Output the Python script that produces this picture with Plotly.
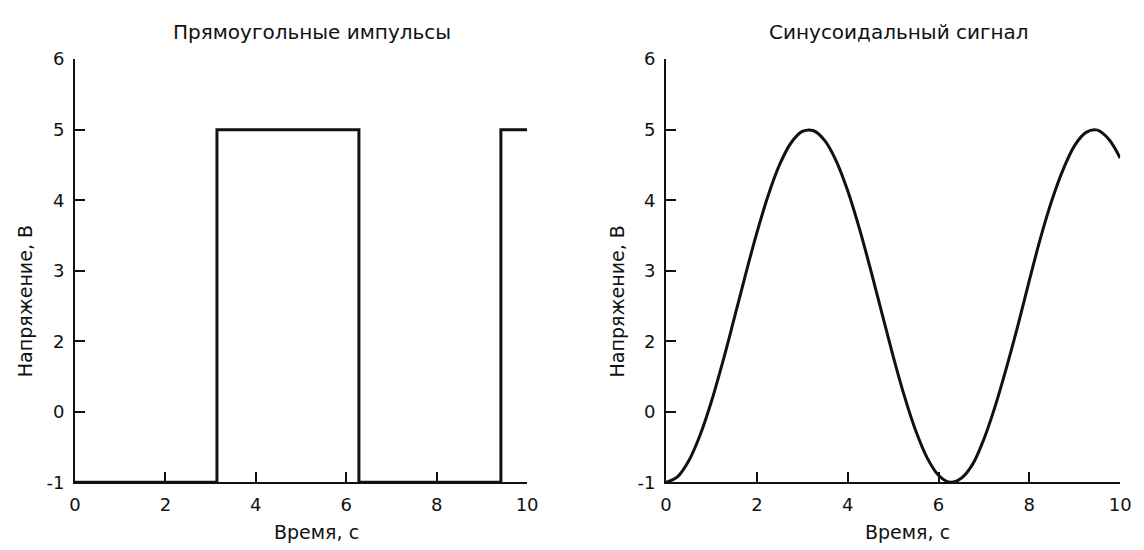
import plotly.graph_objects as go

# Square pulses (y in axis-position units; tick labels as printed on the chart)
sq_x = [0, 3.14, 3.14, 6.28, 6.28, 9.42, 9.42, 10]
sq_y = [0, 0, 5, 5, 0, 0, 5, 5]

# Sinusoid samples
sin_x = [0, 0.25, 0.5, 0.75, 1.0, 1.25, 1.5, 1.75, 2.0, 2.25, 2.5, 2.75, 3.0, 3.25,
         3.5, 3.75, 4.0, 4.25, 4.5, 4.75, 5.0, 5.25, 5.5, 5.75, 6.0, 6.25, 6.5, 6.75,
         7.0, 7.25, 7.5, 7.75, 8.0, 8.25, 8.5, 8.75, 9.0, 9.25, 9.5, 9.75, 10.0]
sin_y = [0.0, 0.078, 0.306, 0.671, 1.149, 1.712, 2.323, 2.946, 3.540, 4.071, 4.503,
         4.811, 4.975, 4.985, 4.841, 4.552, 4.134, 3.615, 3.027, 2.406, 1.791, 1.218,
         0.728, 0.347, 0.100, 0.001, 0.059, 0.255, 0.615, 1.084, 1.634, 2.228, 2.864,
         3.472, 4.005, 4.444, 4.778, 4.962, 4.993, 4.863, 4.598]

x_ticks = [0, 2, 4, 6, 8, 10]
y_tickpos = [0, 1, 2, 3, 4, 5, 6]
y_ticktext = ["-1", "0", "2", "3", "4", "5", "6"]

titles = ["Прямоугольные импульсы", "Синусоидальный сигнал"]
x_title = "Время, с"
y_title = "Напряжение, В"

FONT = "DejaVu Sans, Liberation Sans, Arial, sans-serif"
INK = "#111111"

fig = go.Figure()
fig.add_trace(go.Scatter(x=sq_x, y=sq_y, mode="lines", line=dict(color=INK, width=3),
                         xaxis="x", yaxis="y", showlegend=False))
fig.add_trace(go.Scatter(x=sin_x, y=sin_y, mode="lines", line=dict(color=INK, width=3, shape="spline"),
                         xaxis="x2", yaxis="y2", showlegend=False))

def xax(domain, anchor):
    return dict(domain=domain, anchor=anchor, range=[0, 10], tickvals=x_ticks,
                ticks="inside", ticklen=10, tickwidth=1.5, tickcolor=INK,
                showline=True, linecolor=INK, linewidth=2, showgrid=False, zeroline=False,
                ticklabelstandoff=5,
                tickfont=dict(size=18, color=INK, family=FONT))

def yax(domain, anchor):
    return dict(domain=domain, anchor=anchor, range=[0, 6], tickvals=y_tickpos, ticktext=y_ticktext,
                ticks="inside", ticklen=10, tickwidth=1.5, tickcolor=INK,
                showline=True, linecolor=INK, linewidth=2, showgrid=False, zeroline=False,
                ticklabelstandoff=5,
                tickfont=dict(size=18, color=INK, family=FONT))

def ann(text, x, y, size, angle=0):
    return dict(text=text, x=x, y=y, xref="paper", yref="paper", showarrow=False,
                xanchor="center", yanchor="middle", textangle=angle,
                font=dict(size=size, color=INK, family=FONT))

yd = [0.109, 0.909]
fig.update_layout(
    width=1144, height=550,
    margin=dict(l=0, r=0, t=0, b=0),
    paper_bgcolor="white", plot_bgcolor="white",
    font=dict(family=FONT, color=INK),
    xaxis=xax([0.0612, 0.4624], "y"),
    yaxis=yax(yd, "x"),
    xaxis2=xax([0.5857, 0.9886], "y2"),
    yaxis2=yax(yd, "x2"),
    annotations=[
        ann(titles[0], 0.2719, 0.96, 20),
        ann(titles[1], 0.7928, 0.96, 20),
        ann(x_title, 0.2753, 0.0155, 19),
        ann(x_title, 0.7998, 0.0155, 19),
        ann(y_title, 0.0175, 0.4509, 19, -90),
        ann(y_title, 0.5430, 0.4509, 19, -90),
    ],
)

fig.write_html("out.html")
